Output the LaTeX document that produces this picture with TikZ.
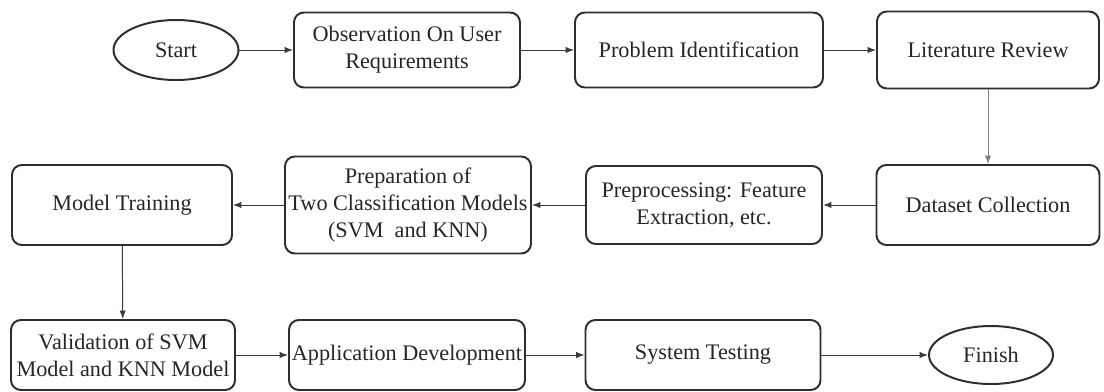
\documentclass[tikz,border=0pt]{standalone}
\usepackage{fontspec}
\setmainfont{Liberation Serif}
\newfontfamily\diagfont{Liberation Serif}
\usetikzlibrary{shapes.geometric,arrows.meta}
\definecolor{boxline}{HTML}{2E2E2E}
\definecolor{arrline}{HTML}{3A3A3A}
\begin{document}
\begin{tikzpicture}[x=0.025cm,y=-0.025cm,
  every node/.style={font=\diagfont\fontsize{15.8}{19}\selectfont, text=black!85},
  procbox/.style={draw=boxline, line width=1.4pt, rounded corners=7pt, align=center, inner sep=0pt, minimum height=75*0.025cm},
  termnode/.style={draw=boxline, line width=1.4pt, ellipse, inner sep=0pt},
  flow/.style={draw=arrline, line width=0.7pt, -{Latex[length=6pt,width=4.5pt]}}
]
\useasboundingbox[fill=white] (0,0) rectangle (1104,391);
% Row 1
\node[termnode, minimum width=125*0.025cm, minimum height=60*0.025cm] (start) at (176,50) {Start};
\node[procbox, minimum width=226*0.025cm] (obs) at (407,50) {Observation On User\\Requirements};
\node[procbox, minimum width=248*0.025cm] (prob) at (699,50) {Problem Identification};
\node[procbox, minimum width=222*0.025cm, minimum height=77*0.025cm] (lit) at (988,50) {Literature Review};
% Row 2
\node[procbox, minimum width=223*0.025cm, minimum height=80*0.025cm] (data) at (988,205) {Dataset Collection};
\node[procbox, minimum width=236*0.025cm, minimum height=78*0.025cm] (pre) at (704,205) {Preprocessing: Feature\\Extraction, etc.};
\node[procbox, minimum width=246*0.025cm, minimum height=97*0.025cm] (prep) at (408,205) {Preparation of\\Two Classification Models\\(SVM\ \ and KNN)};
\node[procbox, minimum width=220*0.025cm, minimum height=80*0.025cm] (mt) at (122,205) {Model Training};
% Row 3
\node[procbox, minimum width=224*0.025cm, minimum height=70*0.025cm] (val) at (123,355) {Validation of SVM\\Model and KNN Model};
\node[procbox, minimum width=236*0.025cm, minimum height=70*0.025cm] (app) at (407,355) {Application Development};
\node[procbox, minimum width=235*0.025cm, minimum height=70*0.025cm] (sys) at (703,355) {System Testing};
\node[termnode, minimum width=124*0.025cm, minimum height=58*0.025cm] (fin) at (991,355) {Finish};
% Connectors
\draw[flow] (start) -- (obs);
\draw[flow] (obs) -- (prob);
\draw[flow] (prob) -- (lit);
\draw[flow, draw=black!50] (lit) -- (data);
\draw[flow] (data) -- (pre);
\draw[flow] (pre) -- (prep);
\draw[flow] (prep) -- (mt);
\draw[flow] (mt) -- (val);
\draw[flow] (val) -- (app);
\draw[flow] (app) -- (sys);
\draw[flow] (sys) -- (fin);
\end{tikzpicture}
\end{document}
